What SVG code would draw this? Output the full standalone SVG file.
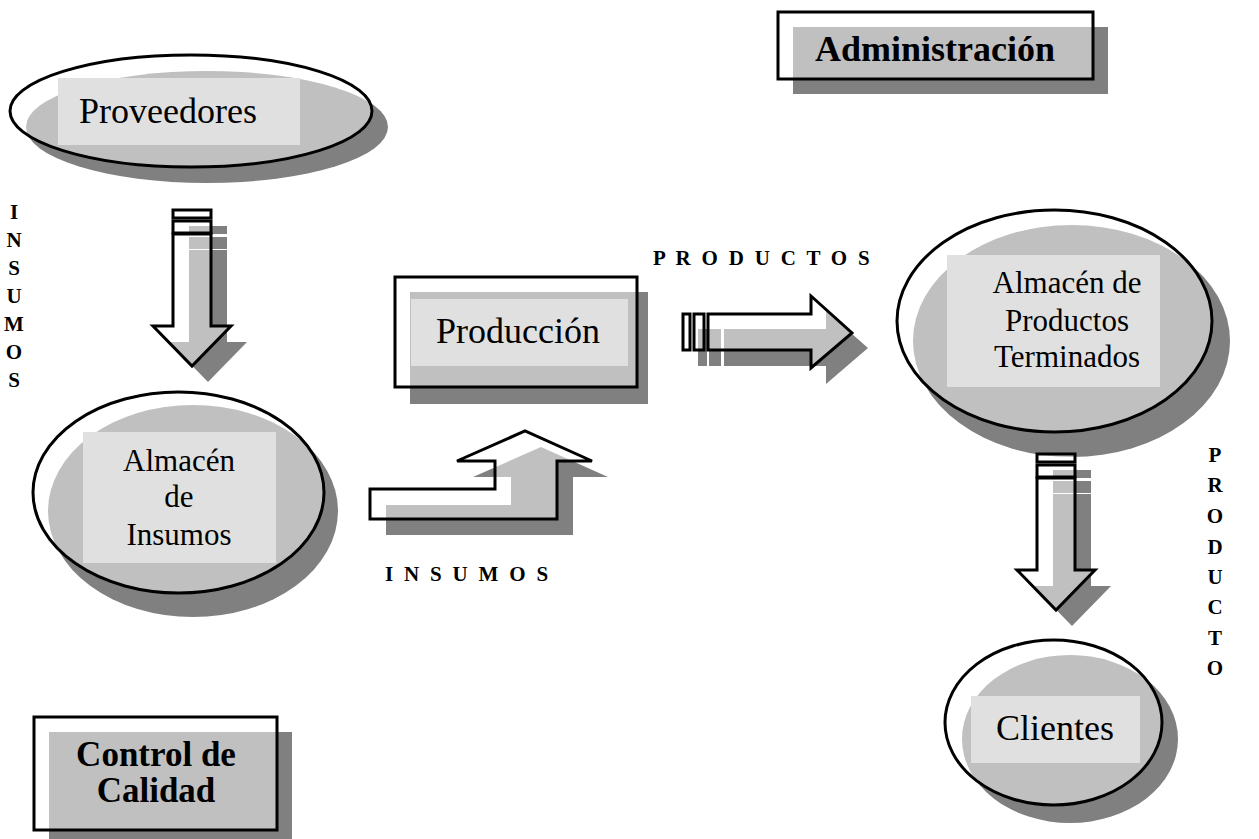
<svg xmlns="http://www.w3.org/2000/svg" width="1259" height="839" viewBox="0 0 1259 839">
  <style>
    .shadow { fill: #808080; }
    .face { fill: #ffffff; fill-opacity: 0.5; stroke: #000000; stroke-width: 3; }
    .box { fill: #e0e0e0; }
    .lbl { font-family: "Liberation Serif", "Times New Roman", serif; fill: #000000; }
    .node { font-size: 36px; text-anchor: middle; }
    .small { font-size: 31px; text-anchor: middle; }
    .bold { font-weight: bold; }
    .tag { font-family: "Liberation Serif", "Times New Roman", serif; font-weight: bold; font-size: 21px; }
    .col { text-anchor: middle; }
  </style>
  <defs>
    <!-- striped block arrow pointing down, origin at top-left of the stem -->
    <g id="downArrowShape">
      <rect x="0" y="0" width="38" height="8"/>
      <rect x="0" y="11" width="38" height="12"/>
      <path d="M0,24 V116 H-20 L19,156 L58,116 H38 V24 Z"/>
    </g>
  </defs>

  <rect width="1259" height="839" fill="#ffffff"/>

  <!-- nodes -->
  <g id="proveedores">
    <ellipse class="shadow" cx="207" cy="127" rx="181" ry="56"/>
    <ellipse class="face" cx="191" cy="111" rx="181" ry="56"/>
    <rect class="box" x="58" y="78" width="242" height="67"/>
    <text class="lbl node" x="168" y="123">Proveedores</text>
  </g>

  <g id="administracion">
    <rect class="shadow" x="793" y="27" width="315" height="67"/>
    <rect class="face" x="778" y="12" width="315" height="67"/>
    <text class="lbl node bold" x="935" y="61">Administración</text>
  </g>

  <g id="produccion">
    <rect class="shadow" x="410" y="292" width="238" height="112"/>
    <rect class="face" x="395" y="277" width="242" height="110"/>
    <rect class="box" x="411" y="299" width="217" height="67"/>
    <text class="lbl node" x="518" y="343">Producción</text>
  </g>

  <g id="almacen-insumos">
    <ellipse class="shadow" cx="193" cy="511" rx="145" ry="106"/>
    <ellipse class="face" cx="178.5" cy="492.5" rx="145.5" ry="100.5"/>
    <rect class="box" x="83" y="432" width="193" height="131"/>
    <text class="lbl small" x="179" y="471">Almacén</text>
    <text class="lbl small" x="179" y="507">de</text>
    <text class="lbl small" x="179" y="545">Insumos</text>
  </g>

  <g id="almacen-productos">
    <ellipse class="shadow" cx="1071.5" cy="341" rx="158.5" ry="116"/>
    <ellipse class="face" cx="1054.5" cy="321" rx="157.5" ry="111"/>
    <rect class="box" x="947" y="255" width="213" height="132"/>
    <text class="lbl small" x="1067" y="293">Almacén de</text>
    <text class="lbl small" x="1067" y="331">Productos</text>
    <text class="lbl small" x="1067" y="367">Terminados</text>
  </g>

  <g id="clientes">
    <ellipse class="shadow" cx="1070" cy="739" rx="108" ry="84"/>
    <ellipse class="face" cx="1053.5" cy="722.5" rx="108.5" ry="82.5"/>
    <rect class="box" x="971" y="696" width="169" height="67"/>
    <text class="lbl node" x="1055" y="740">Clientes</text>
  </g>

  <g id="control-calidad">
    <rect class="shadow" x="49" y="732" width="243" height="113"/>
    <rect class="face" x="34" y="717" width="243" height="113"/>
    <text class="lbl bold" x="156" y="766" font-size="35" text-anchor="middle">Control de</text>
    <text class="lbl bold" x="156" y="802" font-size="35" text-anchor="middle">Calidad</text>
  </g>

  <!-- connectors -->
  <g id="connectors">
    <!-- Proveedores to Almacén de Insumos -->
    <g transform="translate(189,226)" class="shadow">
      <use href="#downArrowShape"/>
    </g>
    <g transform="translate(173,210)" class="face">
      <use href="#downArrowShape"/>
    </g>

    <!-- Almacén de Insumos to Producción (bent up arrow) -->
    <path class="shadow" d="M386,505 H511 V477 H473 L541,447 L608,477 H573 V535 H386 Z"/>
    <path class="face" d="M370,489 H495 V461 H457 L525,431 L592,461 H557 V519 H370 Z"/>

    <!-- Producción to Almacén de Productos Terminados -->
    <g class="shadow">
      <rect x="698" y="329" width="9" height="37"/>
      <rect x="709" y="329" width="12" height="37"/>
      <path d="M724,329 H826 V311 L868,348 L826,384 V366 H724 Z"/>
    </g>
    <g class="face">
      <rect x="683" y="314" width="7" height="36"/>
      <rect x="694" y="314" width="10" height="36"/>
      <path d="M708,314 H811 V296 L852,333 L811,368 V350 H708 Z"/>
    </g>

    <!-- Almacén de Productos Terminados to Clientes -->
    <g transform="translate(1053,470)" class="shadow">
      <use href="#downArrowShape"/>
    </g>
    <g transform="translate(1037,454)" class="face">
      <use href="#downArrowShape"/>
    </g>

    <!-- flow labels -->
    <text class="tag col" x="14" y="219">I<tspan x="14" dy="28">N</tspan><tspan x="14" dy="28">S</tspan><tspan x="14" dy="28">U</tspan><tspan x="14" dy="28">M</tspan><tspan x="14" dy="28">O</tspan><tspan x="14" dy="28">S</tspan></text>
    <text class="tag" x="653" y="265" letter-spacing="2.8">P R O D U C T O S</text>
    <text class="tag" x="385" y="581" letter-spacing="2.8">I N S U M O S</text>
    <text class="tag col" x="1215" y="462">P<tspan x="1215" dy="30">R</tspan><tspan x="1215" dy="31">O</tspan><tspan x="1215" dy="31">D</tspan><tspan x="1215" dy="30">U</tspan><tspan x="1215" dy="30">C</tspan><tspan x="1215" dy="31">T</tspan><tspan x="1215" dy="30">O</tspan></text>
  </g>
</svg>
